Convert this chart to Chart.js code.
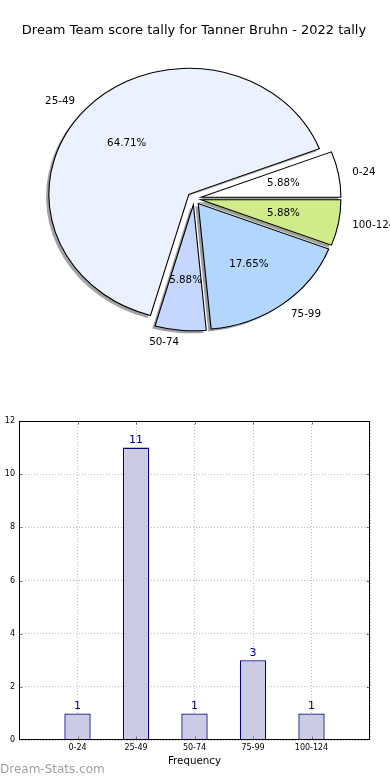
<!DOCTYPE html>
<html><head><meta charset="utf-8">
<script src="https://cdn.jsdelivr.net/npm/chart.js@4.4.1/dist/chart.umd.min.js"></script>
<style>
html,body{margin:0;padding:0;width:390px;height:780px;overflow:hidden;background:#fff;}
#pieWrap{position:absolute;left:0;top:0;width:390px;height:400px;}
#barWrap{position:absolute;left:-9px;top:400px;width:399px;height:380px;}
#mark{position:absolute;left:0;top:762px;font-family:'DejaVu Sans';font-size:12px;color:#a0a0a0;white-space:nowrap;}
</style></head><body>
<div id="pieWrap"><canvas id="pie"></canvas></div>
<div id="barWrap"><canvas id="bar"></canvas></div>
<div id="mark">Dream-Stats.com</div>
<script>
// ---- data ----
const chartTitle = 'Dream Team score tally for Tanner Bruhn - 2022 tally';
const categories = ['0-24', '25-49', '50-74', '75-99', '100-124'];
const counts = [1, 11, 1, 3, 1];
const sliceColors = ['#ffffff', '#ebf1ff', '#c5d7ff', '#b3d6ff', '#d0eb8a'];
const yTickMin = 0, yTickMax = 12, yTickStep = 2;
const xAxisTitle = 'Frequency';
const yAxisTitle = 'Score Count';

// ---- pie (matplotlib order: counter-clockwise from 3 o'clock -> reverse for Chart.js clockwise) ----
const pieLabels = categories.slice().reverse();
const pieValues = counts.slice().reverse();
const pieColors = sliceColors.slice().reverse();
const total = counts.reduce((a, b) => a + b, 0);

const FONT = 'DejaVu Sans';
const SX = 140 / 126;      // ellipse stretch (non-square axes)
const EXPLODE = 6.3;       // explode distance
const SHX = -2.8, SHY = 2.5; // shadow offset

function shadowColor(hex) {
  const n = parseInt(hex.slice(1), 16);
  const r = ((n >> 16) & 255) * 0.3, g = ((n >> 8) & 255) * 0.3, b = (n & 255) * 0.3;
  return `rgba(${r|0},${g|0},${b|0},0.5)`;
}

const pieDraw = {
  id: 'pieDraw',
  beforeDatasetsDraw(chart) {
    const ctx = chart.ctx;
    const arcs = chart.getDatasetMeta(0).data;
    if (!arcs.length) return false;
    const cx = arcs[0].x, cy = arcs[0].y;
    ctx.save();
    ctx.translate(cx, cy); ctx.scale(SX, 1); ctx.translate(-cx, -cy);
    const drawOne = (el, dx, dy, over) => {
      const mid = (el.startAngle + el.endAngle) / 2;
      ctx.save();
      ctx.translate(EXPLODE * Math.cos(mid) + dx, EXPLODE * Math.sin(mid) + dy);
      const saved = el.options;
      if (over) el.options = Object.assign({}, saved, over);
      el.draw(ctx);
      el.options = saved;
      ctx.restore();
    };
    arcs.forEach((el, i) => {
      const c = shadowColor(pieColors[i]);
      drawOne(el, SHX / SX, SHY, {backgroundColor: c, borderColor: c, borderWidth: 0});
    });
    arcs.forEach(el => drawOne(el, 0, 0, null));
    ctx.restore();
    return false;
  },
  afterDraw(chart) {
    const ctx = chart.ctx;
    const arcs = chart.getDatasetMeta(0).data;
    if (!arcs.length) return;
    const cx = arcs[0].x, cy = arcs[0].y;
    ctx.save();
    ctx.fillStyle = '#000';
    ctx.font = `10.3px "${FONT}"`;
    ctx.textBaseline = 'middle';
    arcs.forEach((el, i) => {
      const mid = (el.startAngle + el.endAngle) / 2;
      const c = Math.cos(mid), s = Math.sin(mid);
      const R = el.outerRadius;
      const ex = cx + SX * EXPLODE * c, ey = cy + EXPLODE * s;
      const pct = (100 * pieValues[i] / total).toFixed(2) + '%';
      ctx.textAlign = 'center';
      ctx.fillText(pct, ex + SX * 0.6 * R * c, ey + 0.6 * R * s);
      ctx.textAlign = c >= 0 ? 'left' : 'right';
      ctx.fillText(pieLabels[i], ex + SX * 1.1 * R * c, ey + 1.1 * R * s);
    });
    ctx.restore();
  }
};

new Chart(document.getElementById('pie'), {
  type: 'pie',
  data: {
    labels: pieLabels,
    datasets: [{
      data: pieValues,
      backgroundColor: pieColors,
      borderColor: '#000',
      borderWidth: 1,
      borderJoinStyle: 'miter',
      rotation: 90,
      radius: 126,
      clip: false
    }]
  },
  options: {
    responsive: true, maintainAspectRatio: false, animation: false, events: [],
    rotation: 90, radius: 126,
    layout: {padding: {left: 0, right: 2, top: 0, bottom: 50.6}},
    plugins: {
      legend: {display: false}, tooltip: {enabled: false},
      title: {display: true, text: chartTitle, color: '#000',
        font: {family: FONT, size: 13, weight: 'normal'}, padding: {top: 22.5, bottom: 9.5}}
    }
  },
  plugins: [pieDraw]
});

// ---- bar ----
const GRID = '#bdbdbd';
const barExtras = {
  id: 'barExtras',
  afterDatasetsDraw(chart) {
    const ctx = chart.ctx;
    const meta = chart.getDatasetMeta(0);
    ctx.save();
    ctx.fillStyle = '#00008b';
    ctx.font = `11px "${FONT}"`;
    ctx.textAlign = 'center';
    ctx.textBaseline = 'alphabetic';
    meta.data.forEach((el, i) => ctx.fillText(String(counts[i]), el.x, el.y - 4.5));
    ctx.restore();
  },
  afterDraw(chart) {
    const ctx = chart.ctx;
    const {left, top, right, bottom} = chart.chartArea;
    const L = Math.round(left) + 0.5, T = Math.round(top) + 0.5, Rr = Math.round(right) - 0.5, B = Math.round(bottom) - 0.5;
    ctx.save();
    ctx.strokeStyle = '#777';
    ctx.lineWidth = 1;
    const xs = chart.scales.x, ys = chart.scales.y;
    ctx.beginPath();
    categories.forEach((c, i) => {
      const x = Math.round(xs.getPixelForValue(i)) + 0.5;
      ctx.moveTo(x, B); ctx.lineTo(x, B - 3);
      ctx.moveTo(x, T); ctx.lineTo(x, T + 3);
    });
    for (let v = yTickMin + yTickStep; v < yTickMax; v += yTickStep) {
      const y = Math.round(ys.getPixelForValue(v)) + 0.5;
      ctx.moveTo(L, y); ctx.lineTo(L + 3, y);
      ctx.moveTo(Rr, y); ctx.lineTo(Rr - 3, y);
    }
    ctx.stroke();
    ctx.strokeStyle = '#000';
    ctx.strokeRect(L, T, Rr - L, B - T);
    ctx.restore();
  }
};

new Chart(document.getElementById('bar'), {
  type: 'bar',
  data: {
    datasets: [{
      data: categories.map((c, i) => ({x: i, y: counts[i]})),
      backgroundColor: '#cbcbe5',
      borderColor: '#000080',
      borderWidth: 1.3,
      barPercentage: 0.45,
      categoryPercentage: 1
    }]
  },
  options: {
    responsive: true, maintainAspectRatio: false, animation: false, events: [],
    layout: {padding: {top: 21, right: 20, left: 0, bottom: 0}},
    plugins: {legend: {display: false}, tooltip: {enabled: false}},
    scales: {
      x: {
        type: 'linear', min: -1, max: 5, offset: false,
        grid: {color: GRID, lineWidth: 1, drawTicks: false, offset: false},
        border: {display: false, dash: [1, 2]},
        ticks: {stepSize: 1, autoSkip: false, maxRotation: 0, minRotation: 0, padding: 3, color: '#000',
          font: {family: FONT, size: 8},
          callback: v => (Number.isInteger(v) && categories[v] !== undefined) ? categories[v] : ''},
        title: {display: true, text: xAxisTitle, color: '#000', font: {family: FONT, size: 10.3},
          padding: {top: 0, bottom: 12}},
        afterFit(s) { s.height = 40; }
      },
      y: {
        min: yTickMin, max: yTickMax,
        grid: {color: GRID, lineWidth: 1, drawTicks: false},
        border: {display: false, dash: [1, 2]},
        ticks: {stepSize: yTickStep, padding: 4, color: '#000', font: {family: FONT, size: 8}},
        title: {display: true, text: yAxisTitle, color: '#000', font: {family: FONT, size: 10.3},
          padding: {top: 0, bottom: 0}},
        afterFit(s) { s.width = 28; }
      }
    }
  },
  plugins: [barExtras]
});
</script>
</body></html>
